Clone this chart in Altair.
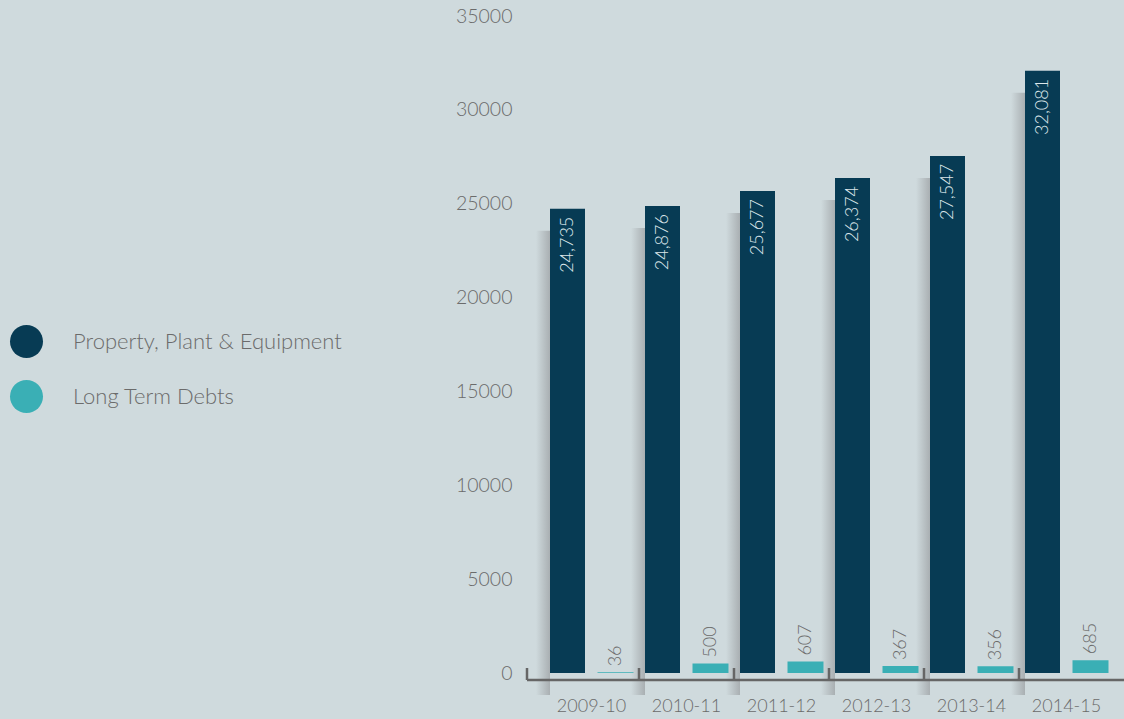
import altair as alt
import pandas as pd

years = ["2009-10", "2010-11", "2011-12", "2012-13", "2013-14", "2014-15"]
ppe = [24735, 24876, 25677, 26374, 27547, 32081]
ltd = [36, 500, 607, 367, 356, 685]
series_names = ["Property, Plant & Equipment", "Long Term Debts"]
series_colors = ["#073b54", "#3aafb5"]
y_ticks = [0, 5000, 10000, 15000, 20000, 25000, 30000, 35000]

BG = "#cfdadd"
TXT = "#6b6b6b"
FONT = "Lato"
W = 300

rows = []
for y, a, b in zip(years, ppe, ltd):
    rows.append({"year": y, "series": series_names[0], "value": a})
    rows.append({"year": y, "series": series_names[1], "value": b})
df = pd.DataFrame(rows)

xenc = alt.X("year:N", sort=years, scale=alt.Scale(paddingInner=0, paddingOuter=0),
             axis=alt.Axis(title=None, domain=False, ticks=False, labelFontSize=18,
                           labelColor=TXT, labelFont=FONT, labelFontWeight=W,
                           labelPadding=24, labelAngle=0))
yenc = alt.Y("value:Q", scale=alt.Scale(domain=[0, 35000], nice=False),
             axis=alt.Axis(title=None, domain=False, ticks=False, grid=False, values=y_ticks,
                           format="d", labelFontSize=19.5, labelColor=TXT, labelFont=FONT,
                           labelFontWeight=W, labelPadding=32))
cenc = alt.Color("series:N",
                 scale=alt.Scale(domain=series_names, range=series_colors),
                 sort=series_names,
                 legend=alt.Legend(title=None, orient="none", legendX=-534, legendY=309,
                                   symbolType="circle", symbolSize=1089, symbolStrokeWidth=0,
                                   labelFontSize=22, labelColor=TXT, labelFont=FONT,
                                   labelFontWeight=W,
                                   labelOffset=30, rowPadding=22, padding=0, labelLimit=400))

base = alt.Chart(df)

shadow = base.transform_filter(alt.datum.series == series_names[0]).mark_bar(
    width=14, xOffset=-24 - 17.5 - 7, yOffset=22, y2Offset=0,
    color=alt.LinearGradient(gradient="linear", x1=0, x2=1, y1=0, y2=0,
                             stops=[alt.GradientStop(offset=0, color=BG),
                                    alt.GradientStop(offset=1, color="#a9afb2")])
).encode(x=xenc, y=yenc)

dark = base.transform_filter(alt.datum.series == series_names[0]).mark_bar(
    width=35, xOffset=-24).encode(x=xenc, y=yenc, color=cenc)

teal = base.transform_filter(alt.datum.series == series_names[1]).mark_bar(
    width=36, xOffset=24).encode(x=xenc, y=yenc, color=cenc)

dark_lbl = base.transform_filter(alt.datum.series == series_names[0]).mark_text(
    angle=270, align="right", baseline="middle", dx=-8, xOffset=-24,
    color="#dde7ea", fontSize=18, font=FONT, fontWeight=W
).encode(x=xenc, y=yenc, text=alt.Text("value:Q", format=",d"))

teal_lbl = base.transform_filter(alt.datum.series == series_names[1]).mark_text(
    angle=270, align="left", baseline="middle", dx=6, xOffset=24,
    color=TXT, fontSize=18, font=FONT, fontWeight=W
).encode(x=xenc, y=yenc, text=alt.Text("value:Q", format=",d"))

axis_line = alt.Chart(pd.DataFrame({"k": [0]})).mark_rule(color="#666666", strokeWidth=2.5).encode(
    x=alt.value(-17), x2=alt.value(580), y=alt.value(664))

tick_df = pd.DataFrame({"year": years[1:]})
ticks = alt.Chart(tick_df).mark_rule(color="#666666", strokeWidth=2.5).encode(
    x=alt.X("year:N", sort=years, bandPosition=0), y=alt.value(652), y2=alt.value(664))
first_tick = alt.Chart(pd.DataFrame({"k": [0]})).mark_rule(color="#666666", strokeWidth=2.5).encode(
    x=alt.value(-17), y=alt.value(652), y2=alt.value(664))

chart = alt.layer(shadow, dark, teal, dark_lbl, teal_lbl, axis_line, ticks, first_tick).properties(
    width=570, height=657,
    autosize=alt.AutoSizeParams(type="none"),
    padding={"left": 544, "top": 16, "right": 10, "bottom": 46},
    background=BG,
).configure_view(strokeWidth=0)

chart.save("out.html", embed_options={"renderer": "svg", "actions": False})
